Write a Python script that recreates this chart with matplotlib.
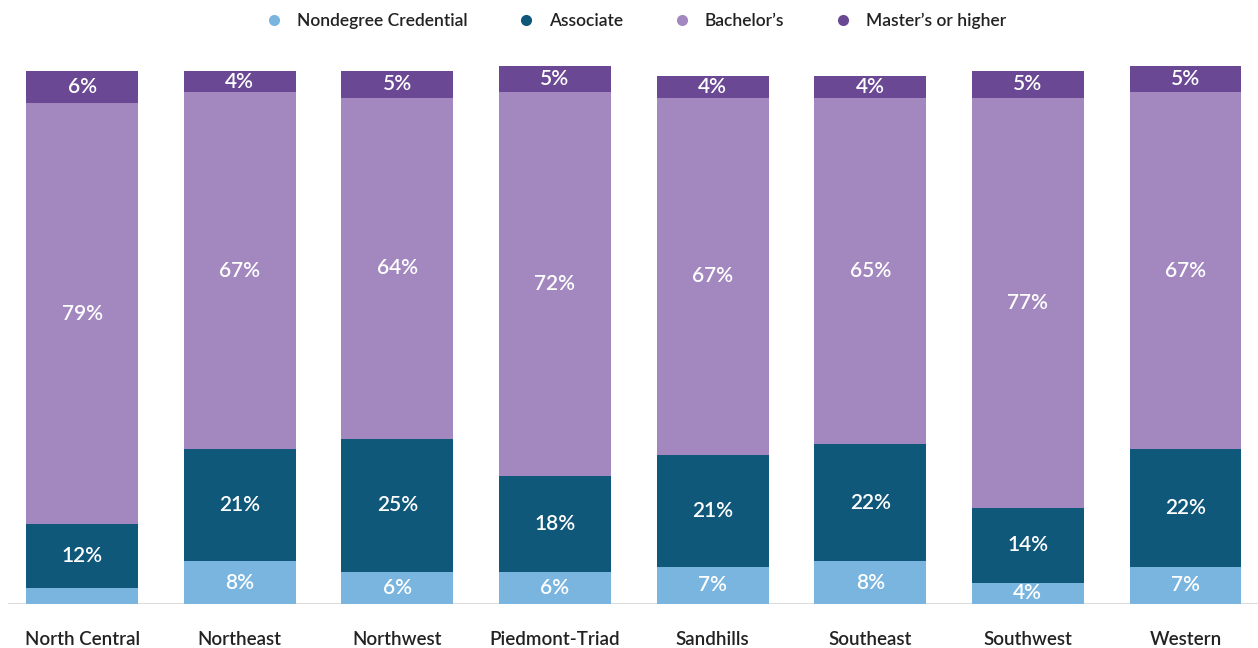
import numpy as np
import matplotlib.pyplot as plt
from matplotlib.lines import Line2D

plt.rcParams['font.family'] = ['Lato', 'DejaVu Sans']

regions = ["North Central", "Northeast", "Northwest", "Piedmont-Triad",
           "Sandhills", "Southeast", "Southwest", "Western"]
nondegree = [3, 8, 6, 6, 7, 8, 4, 7]
associate = [12, 21, 25, 18, 21, 22, 14, 22]
bachelors = [79, 67, 64, 72, 67, 65, 77, 67]
masters = [6, 4, 5, 5, 4, 4, 5, 5]

series = [
    ("Nondegree Credential", nondegree, "#7ab5e0"),
    ("Associate", associate, "#10587a"),
    ("Bachelor\u2019s", bachelors, "#a388c0"),
    ("Master\u2019s or higher", masters, "#6a4894"),
]

fig = plt.figure(figsize=(12.58, 6.48), dpi=100)
ytop = 102
ax = fig.add_axes([8 / 1258, 44 / 648, 1 - 8 / 1258, 533 * ytop / 100 / 648])

x = np.arange(len(regions))
bottom = np.zeros(len(regions))
for name, vals, color in series:
    vals = np.array(vals, dtype=float)
    ax.bar(x, vals, width=0.71, bottom=bottom, color=color, linewidth=0)
    for xi, b, v in zip(x, bottom, vals):
        if v >= 4:
            ax.text(xi, b + v / 2, f"{int(v)}%", ha="center", va="center",
                    color="white", fontsize=15, fontweight="semibold")
    bottom += vals

ax.set_xlim(-0.47, 7.46)
ax.set_ylim(0, ytop)
for s in ax.spines.values():
    s.set_visible(False)
ax.axhline(0, color="#dddddd", linewidth=1.5, zorder=0)
ax.set_yticks([])
ax.set_xticks(x)
ax.set_xticklabels(regions, fontsize=13.5, color="#222222", fontweight="semibold")
ax.tick_params(axis="x", length=0, pad=19.5)

handles = [Line2D([], [], marker="o", linestyle="", markersize=8,
                  markerfacecolor=c, markeredgewidth=0, label=n)
           for n, _, c in series]
fig.legend(handles=handles, loc="center", bbox_to_anchor=(0.502, 0.968),
           ncol=4, frameon=False, handletextpad=0.3,
           columnspacing=2.4, labelcolor="#222222",
           prop={"weight": "semibold", "size": 12.5})

fig.savefig("out.png", dpi=100)
